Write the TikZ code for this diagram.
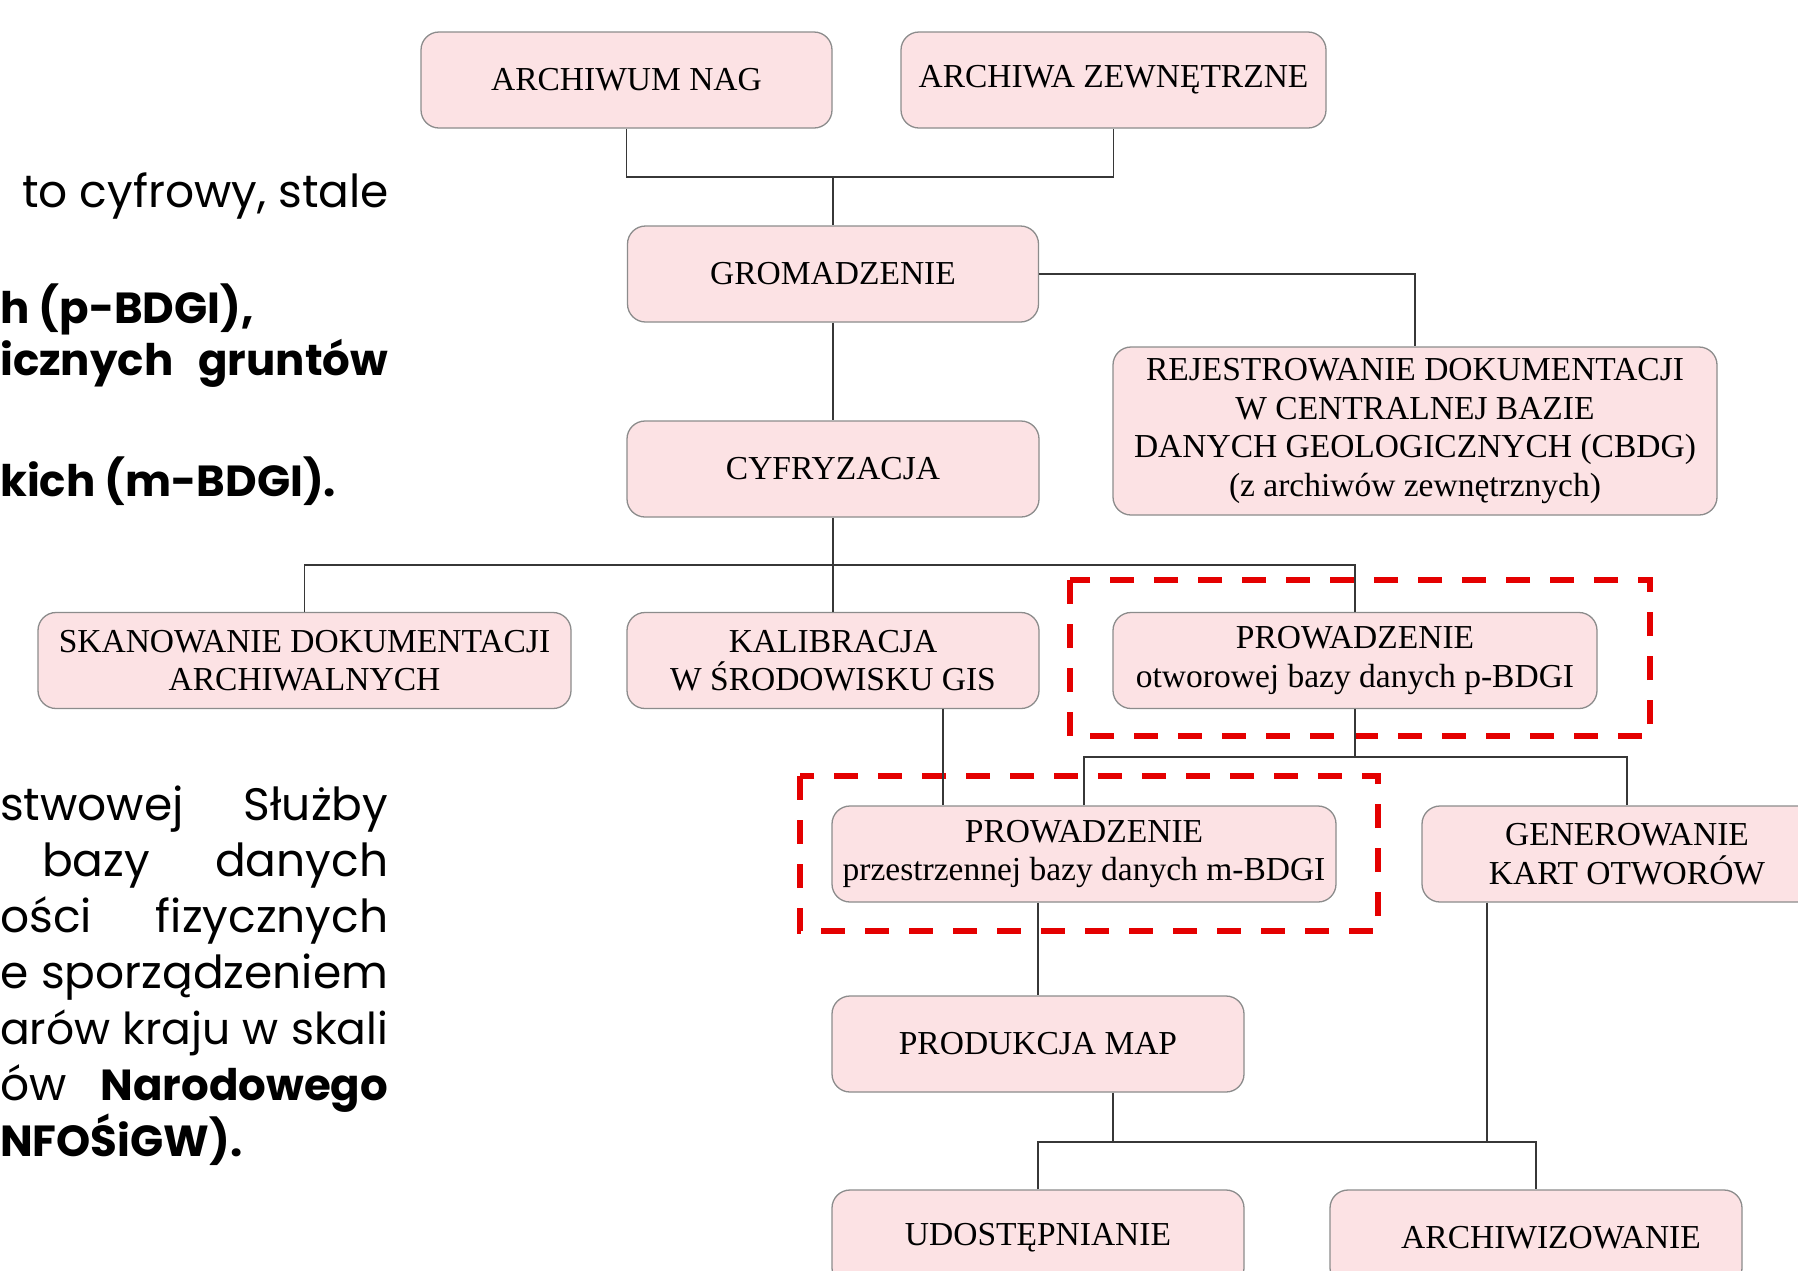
\documentclass[tikz,border=0pt]{standalone}
\usepackage{fontspec}
\setmainfont{Liberation Serif}
\newfontfamily\gothic{Poppins}
\usetikzlibrary{positioning}
\definecolor{boxpink}{RGB}{252,226,228}
\definecolor{boxline}{RGB}{140,140,140}
\definecolor{linkgray}{RGB}{55,55,55}
\definecolor{markred}{RGB}{228,0,0}
\newcommand{\txt}{\fontsize{33.5}{38.5}\selectfont}
\newcommand{\side}{\gothic\fontsize{45.5}{56}\selectfont}
\newcommand{\sidesm}{\fontsize{44}{56}\selectfont}
\newcommand{\sideb}{\bfseries\fontsize{43.5}{56}\selectfont}

\begin{document}
\begin{tikzpicture}[x=1pt,y=-1pt,
   box/.style={draw=boxline,line width=1.3pt,fill=boxpink,rounded corners=18pt,
               minimum height=96pt,align=center,inner sep=0pt,font=\txt},
   link/.style={draw=linkgray,line width=1.8pt},
   redframe/.style={draw=markred,line width=6.5pt,dash pattern=on 24pt off 20pt},
   side/.style={inner sep=0pt,font=\side}]
   \useasboundingbox (0,0) rectangle (1798,1270);
   \fill[white] (0,0) rectangle (1798,1270);
   \clip (0,0) rectangle (1798,1270);
   \draw[redframe] (1070,580) rectangle (1650,736);
   \draw[redframe] ( 800,776) rectangle (1378,931);
   \node[box,minimum width=411pt] (nag)  at ( 626.5,  80) {ARCHIWUM NAG};
   \node[box,minimum width=425pt] (zew)  at (1113.5,  80) {ARCHIWA ZEWNĘTRZNE};
   \node[box,minimum width=411pt] (gro)  at ( 833,   274) {GROMADZENIE};
   \node[box,minimum width=604pt,minimum height=168pt] (rej) at (1415, 431)
        {REJESTROWANIE DOKUMENTACJI\\W CENTRALNEJ BAZIE\\DANYCH GEOLOGICZNYCH (CBDG)\\(z archiwów zewnętrznych)};
   \node[box,minimum width=412pt] (cyf)  at ( 833,   469) {CYFRYZACJA};
   \node[box,minimum width=533pt] (ska)  at ( 304.5, 660.5) {SKANOWANIE DOKUMENTACJI\\ARCHIWALNYCH};
   \node[box,minimum width=412pt] (kal)  at ( 833,   660.5) {KALIBRACJA\\W ŚRODOWISKU GIS};
   \node[box,minimum width=484pt] (pbd)  at (1355,   660.5) {PROWADZENIE\\otworowej bazy danych p-BDGI};
   \node[box,minimum width=504pt] (mbd)  at (1084,   854) {PROWADZENIE\\przestrzennej bazy danych m-BDGI};
   \node[box,minimum width=410pt] (gen)  at (1627,   854) {GENEROWANIE\\KART OTWORÓW};
   \node[box,minimum width=412pt] (prod) at (1038,  1044) {PRODUKCJA MAP};
   \node[box,minimum width=412pt] (udo)  at (1038,  1238) {UDOSTĘPNIANIE};
   \node[box,minimum width=412pt] (arc)  at (1536,  1238) {\raisebox{-4pt}{\hspace*{30pt}ARCHIWIZOWANIE}};
   \coordinate (j1) at ( 833, 177);
   \coordinate (j2) at ( 833, 565);
   \coordinate (j3) at (1355, 757);
   \coordinate (j4) at (1113,1142);
   \coordinate (k1) at ([xshift=110pt]kal.south);
   \coordinate (g1) at ([xshift=-140pt]gen.south);
   \draw[link] (nag.south) |- (j1) -| (zew.south);
   \draw[link] (j1) -- (gro.north);
   \draw[link] (gro.east) -| (rej.north);
   \draw[link] (gro.south) -- (cyf.north);
   \draw[link] (cyf.south) -- (kal.north);
   \draw[link] (ska.north) |- (j2) -| (pbd.north);
   \draw[link] (pbd.south) -- (j3);
   \draw[link] (mbd.north) |- (j3) -| (gen.north);
   \draw[link] (k1) -- (k1 |- mbd.north);
   \draw[link] (mbd.south -| prod.north) -- (prod.north);
   \draw[link] (udo.north) |- (j4) -| (arc.north);
   \draw[link] (prod.south -| j4) -- (j4);
   \draw[link] (g1) -- (g1 |- j4);
   \node[side,anchor=base east] (t1) at (389, 207) {to cyfrowy, stale};
   \node[side,anchor=base west] (t2) at (0,   323) {\sideb h (p-BDGI),};
   \node[side,anchor=base west] (t3) at (0,   375) {\sideb\makebox[388pt][s]{icznych gruntów}};
   \node[side,anchor=base west] (t4) at (0,   496) {\sideb kich (m-BDGI).};
   \node[side,anchor=base west] (b1) at (0,   820) {\makebox[388pt][s]{stwowej Służby}};
   \node[side,anchor=base west] (b2) at (42,  876) {\makebox[346pt][s]{bazy danych}};
   \node[side,anchor=base west] (b3) at (0,   932) {\makebox[388pt][s]{ości fizycznych}};
   \node[side,anchor=base west] (b4) at (0,   988) {\makebox[388pt][s]{e sporządzeniem}};
   \node[side,anchor=base west] (b5) at (0,  1044) {\sidesm\makebox[388pt][s]{arów kraju w skali}};
   \node[side,anchor=base west] (b6) at (0,  1100) {\makebox[388pt][s]{ów {\sideb Narodowego}}};
   \node[side,anchor=base west] (b7) at (0,  1156) {\sideb NFOŚiGW).};
\end{tikzpicture}
\end{document}
